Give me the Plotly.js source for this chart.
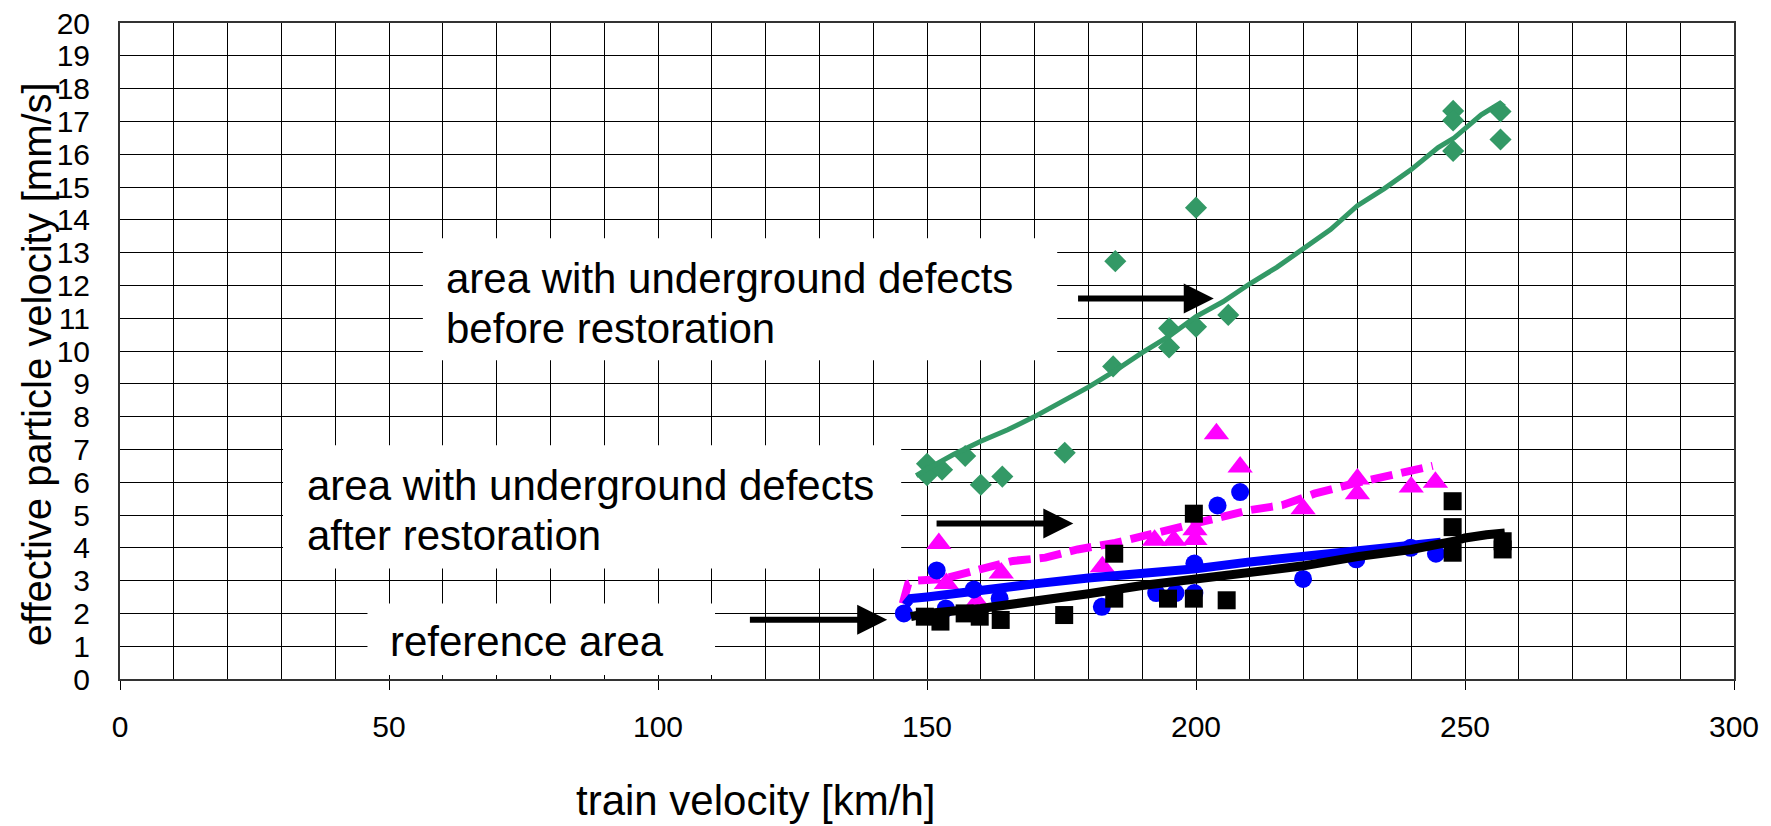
<!DOCTYPE html>
<html>
<head>
<meta charset="utf-8">
<script src="https://cdn.plot.ly/plotly-3.0.1.min.js"></script>
<style>html,body{margin:0;padding:0;background:#fff;}#chart{width:1771px;height:826px;}</style>
</head>
<body>
<div id="chart"></div>
<script>
// ---- data ----
// area with underground defects, before restoration (green diamonds + trend)
const beforeX = [150, 150, 152.8, 157.1, 160, 164, 175.6, 184.6, 185, 195, 195, 200, 200, 206, 247.8, 247.8, 247.8, 256.6, 256.6];
const beforeY = [6.56, 6.21, 6.38, 6.8, 5.92, 6.17, 6.9, 9.53, 12.74, 10.69, 10.11, 10.74, 14.37, 11.1, 17.32, 17.03, 16.1, 17.3, 16.45];
const beforeTrendX = [148, 150, 155, 160, 165, 170, 175, 180, 185, 190, 195, 200, 205, 210, 215, 220, 225, 230, 235, 240, 245, 248, 250, 253, 256.5, 257.3];
const beforeTrendY = [6.2, 6.4, 6.85, 7.25, 7.6, 8.0, 8.45, 8.9, 9.4, 9.95, 10.45, 11.05, 11.5, 12.05, 12.55, 13.13, 13.7, 14.43, 14.95, 15.53, 16.2, 16.5, 16.8, 17.2, 17.55, 17.45];

// area with underground defects, after restoration (magenta triangles + dashed trend)
const afterX = [152.2, 153.6, 159.3, 163.8, 182.6, 192.3, 195.9, 199.8, 199.8, 203.8, 208.2, 219.9, 230, 230, 240, 244.5];
const afterY = [4.13, 2.91, 2.35, 3.23, 3.42, 4.23, 4.23, 4.55, 4.25, 7.48, 6.46, 5.19, 6.1, 5.65, 5.85, 6.0];
const afterTrendX = [145.5, 146.5, 148, 153, 160, 166, 172, 178, 185, 191, 196, 203, 210, 216, 222, 229, 235, 241, 244];
const afterTrendY = [2.3, 2.9, 3.0, 3.05, 3.35, 3.6, 3.7, 3.95, 4.15, 4.4, 4.6, 4.9, 5.15, 5.3, 5.65, 5.95, 6.15, 6.4, 6.5];

// reference area (blue circles + trend)
const refCircleX = [145.7, 151.8, 153.5, 158.7, 163.5, 182.5, 192.6, 196.2, 199.7, 199.7, 204, 208.2, 219.9, 229.8, 239.9, 244.6];
const refCircleY = [2.0, 3.31, 2.15, 2.73, 2.45, 2.2, 2.62, 2.62, 2.62, 3.52, 5.29, 5.7, 3.05, 3.65, 4.0, 3.82];
const refCircleTrendX = [146, 147, 150, 160, 170, 180, 190, 200, 210, 220, 230, 240, 245.5];
const refCircleTrendY = [2.25, 2.45, 2.5, 2.73, 2.9, 3.08, 3.2, 3.36, 3.57, 3.73, 3.92, 4.1, 4.17];

// reference area (black squares + trend)
const refSquareX = [149.6, 152.5, 157, 159.8, 163.7, 175.5, 184.8, 184.8, 194.8, 199.6, 199.6, 205.7, 247.7, 247.7, 247.7, 257, 257];
const refSquareY = [1.9, 1.75, 2.0, 1.9, 1.8, 1.95, 3.82, 2.45, 2.45, 2.45, 5.04, 2.4, 5.42, 4.63, 3.85, 4.2, 3.95];
const refSquareTrendX = [147, 150, 160, 170, 180, 190, 200, 210, 220, 230, 240, 248, 250, 254, 257.4];
const refSquareTrendY = [1.9, 2.0, 2.15, 2.35, 2.6, 2.85, 3.05, 3.25, 3.45, 3.73, 3.95, 4.2, 4.3, 4.4, 4.45];

// texts
const xTitle = 'train velocity [km/h]';
const yTitle = 'effective particle velocity [mm/s]';
const labelBefore = ['area with underground defects', 'before restoration'];
const labelAfter = ['area with underground defects', 'after restoration'];
const labelRef = 'reference area';

// ---- colours / styles ----
const GREEN = '#339966', MAGENTA = '#ff00ff', BLUE = '#0000ff', BLACK = '#000000';
const FONT = 'Liberation Sans, Arial, Helvetica, sans-serif';

const traces = [
  {x: afterX, y: afterY, mode: 'markers', type: 'scatter',
   marker: {symbol: 'triangle-up', size: 22, color: MAGENTA}},
  {x: afterTrendX, y: afterTrendY, mode: 'lines', type: 'scatter',
   line: {color: MAGENTA, width: 8, dash: '22px,9px'}},
  {x: refCircleX, y: refCircleY, mode: 'markers', type: 'scatter',
   marker: {symbol: 'circle', size: 18, color: BLUE}},
  {x: refCircleTrendX, y: refCircleTrendY, mode: 'lines', type: 'scatter',
   line: {color: BLUE, width: 9}},
  {x: refSquareX, y: refSquareY, mode: 'markers', type: 'scatter',
   marker: {symbol: 'square', size: 18, color: BLACK}},
  {x: refSquareTrendX, y: refSquareTrendY, mode: 'lines', type: 'scatter',
   line: {color: BLACK, width: 9}},
  {x: beforeX, y: beforeY, mode: 'markers', type: 'scatter',
   marker: {symbol: 'diamond', size: 17, color: GREEN}},
  {x: beforeTrendX, y: beforeTrendY, mode: 'lines', type: 'scatter',
   line: {color: GREEN, width: 5}}
];

function box(x0, x1, y0, y1) {
  return {type: 'rect', xref: 'x', yref: 'y', x0: x0, x1: x1, y0: y0, y1: y1,
          fillcolor: '#ffffff', line: {width: 0}, layer: 'above'};
}
function label(text, x, y) {
  return {text: text, xref: 'x', yref: 'y', x: x, y: y, xanchor: 'left', yanchor: 'middle',
          showarrow: false, font: {family: FONT, size: 42, color: '#000'}};
}
function arrow(x0, x1, y) {
  return {text: '', xref: 'x', yref: 'y', axref: 'x', ayref: 'y', x: x1, y: y, ax: x0, ay: y,
          showarrow: true, arrowhead: 2, arrowsize: 1, arrowwidth: 6, arrowcolor: '#000', standoff: 0};
}

const layout = {
  width: 1771, height: 826,
  margin: {l: 120, r: 37, t: 23, b: 147, pad: 0},
  paper_bgcolor: '#ffffff', plot_bgcolor: '#ffffff',
  showlegend: false,
  font: {family: FONT, color: '#000'},
  xaxis: {
    range: [0, 300], tick0: 0, dtick: 50,
    ticks: 'outside', ticklen: 9, tickwidth: 1, tickcolor: '#000',
    showgrid: true, gridcolor: '#000', gridwidth: 1,
    minor: {dtick: 10, showgrid: true, gridcolor: '#000', gridwidth: 1, ticks: ''},
    showline: true, linecolor: '#333', linewidth: 2, mirror: true, zeroline: false,
    tickfont: {family: FONT, size: 30, color: '#000'}, ticklabelstandoff: 11
  },
  yaxis: {
    range: [0, 20], tick0: 0, dtick: 1,
    ticks: '', showgrid: true, gridcolor: '#000', gridwidth: 1,
    showline: true, linecolor: '#333', linewidth: 2, mirror: true, zeroline: false,
    tickfont: {family: FONT, size: 30, color: '#000'}, ticklabelstandoff: 22
  },
  shapes: [
    box(56.3, 174.2, 9.72, 13.44),
    box(30.3, 145.2, 3.37, 7.13),
    box(46.0, 110.6, 0.12, 2.3)
  ],
  annotations: [
    label(labelBefore[0], 60.2, 12.22),
    label(labelBefore[1], 60.2, 10.7),
    label(labelAfter[0], 34.4, 5.9),
    label(labelAfter[1], 34.4, 4.38),
    label(labelRef, 49.8, 1.13),
    arrow(177.8, 203.3, 11.6),
    arrow(151.5, 177.2, 4.74),
    arrow(116.8, 142.6, 1.81),
    {text: xTitle, xref: 'paper', yref: 'paper', x: 0.394, y: 0, yshift: -121,
     xanchor: 'center', yanchor: 'middle', showarrow: false,
     font: {family: FONT, size: 42, color: '#000'}},
    {text: yTitle, xref: 'paper', yref: 'paper', x: -0.0514, y: 0.48, textangle: -90,
     xanchor: 'center', yanchor: 'middle', showarrow: false,
     font: {family: FONT, size: 40, color: '#000'}}
  ]
};

Plotly.newPlot('chart', traces, layout, {staticPlot: true, displayModeBar: false});
</script>
</body>
</html>
